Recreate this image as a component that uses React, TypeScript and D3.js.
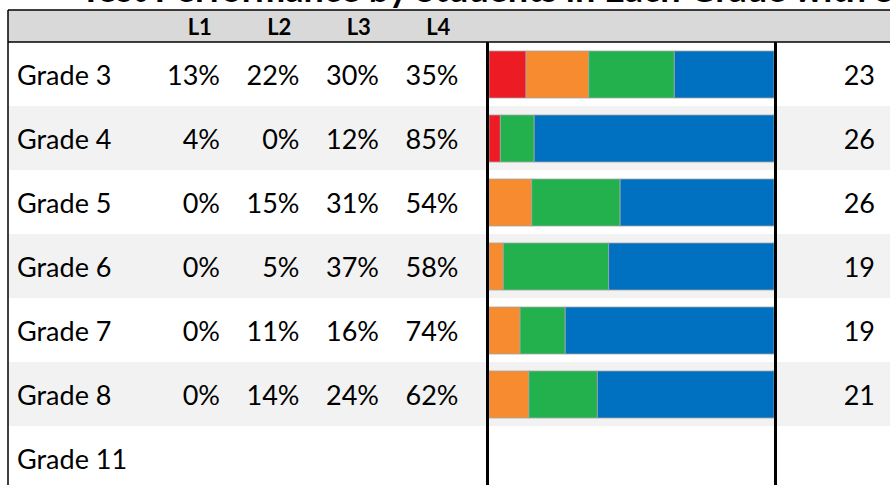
import React from "react";
import { scaleBand, scaleLinear, stack } from "d3";

const title = "Test Performance by Students in Each Grade with Student Counts";
const levels = ["L1", "L2", "L3", "L4"];
const grades = ["Grade 3", "Grade 4", "Grade 5", "Grade 6", "Grade 7", "Grade 8", "Grade 11"];
const l1 = [13, 4, 0, 0, 0, 0, null];
const l2 = [22, 0, 15, 5, 11, 14, null];
const l3 = [30, 12, 31, 37, 16, 24, null];
const l4 = [35, 85, 54, 58, 74, 62, null];
const counts = [23, 26, 26, 19, 19, 21, null];
const levelColors = ["#ed1c24", "#f68b2f", "#23b14d", "#0070c0"];

const W = 890;
const H = 485;
const left = 8;
const headerTop = 10;
const headerBottom = 42;
const rowH = 64;
const barLeft = 489;
const barRight = 774;
const font = "Lato, 'Open Sans', sans-serif";

export default function App() {
  const y = scaleBand<string>()
    .domain(grades)
    .range([headerBottom, headerBottom + rowH * grades.length]);

  const colX = scaleBand<string>().domain(levels).range([160, 478]);

  const x = scaleLinear().domain([0, 1]).range([barLeft, barRight]);

  const rows = grades.map((g, i) => {
    const vals = [l1[i], l2[i], l3[i], l4[i]];
    const total = vals.reduce((s, v) => s + (v ?? 0), 0);
    return {
      grade: g,
      L1: total ? (l1[i] ?? 0) / total : 0,
      L2: total ? (l2[i] ?? 0) / total : 0,
      L3: total ? (l3[i] ?? 0) / total : 0,
      L4: total ? (l4[i] ?? 0) / total : 0,
      vals,
    };
  });

  const series = stack<any>().keys(levels)(rows);

  return (
    <svg width={W} height={H} style={{ position: "absolute", left: 0, top: 0, background: "#fff" }}>
      {/* title, mostly cut off above the table */}
      <text x={80} y={2} fontFamily={font} fontWeight="bold" fontSize={36} fill="#000">{title}</text>

      {/* header */}
      <rect x={left} y={headerTop} width={W - left} height={headerBottom - headerTop} fill="#d9d9d9" />
      {levels.map(l => (
        <text key={l} x={colX(l)! + colX.bandwidth() / 2} y={35} textAnchor="middle"
          fontFamily={font} fontWeight="bold" fontSize={22}>{l}</text>
      ))}

      {/* row backgrounds */}
      {grades.map((g, i) => (
        <rect key={g} x={left} y={y(g)} width={W - left} height={rowH}
          fill={i % 2 === 1 ? "#f2f2f2" : "#ffffff"} />
      ))}

      {/* stacked bars */}
      {series.map((s, si) => (
        <g key={s.key}>
          {s.map((d, i) => {
            const w = x(d[1]) - x(d[0]);
            if (w <= 0) return null;
            return (
              <rect key={i} x={x(d[0])} y={y(grades[i])! + 9} width={w} height={rowH - 17}
                fill={levelColors[si]} stroke="#a6a6a6" strokeWidth={0.8} />
            );
          })}
        </g>
      ))}

      {/* row text */}
      {rows.map((r, i) => (
        <g key={r.grade} fontFamily={font} fontSize={27} fill="#000">
          <text x={17} y={y(r.grade)! + rowH / 2} dominantBaseline="central">{r.grade}</text>
          {r.vals.map((v, j) =>
            v == null ? null : (
              <text key={j} x={colX(levels[j])! + 60} y={y(r.grade)! + rowH / 2}
                textAnchor="end" dominantBaseline="central">{v}%</text>
            )
          )}
          {counts[i] != null && (
            <text x={875} y={y(r.grade)! + rowH / 2} textAnchor="end" dominantBaseline="central">
              {counts[i]}
            </text>
          )}
        </g>
      ))}

      {/* grid lines */}
      <line x1={left} x2={W} y1={headerTop} y2={headerTop} stroke="#000" strokeWidth={1.5} />
      <line x1={left} x2={W} y1={headerBottom} y2={headerBottom} stroke="#000" strokeWidth={1.5} />
      <line x1={left} x2={left} y1={headerTop} y2={H} stroke="#000" strokeWidth={1.5} />
      <line x1={barLeft - 1.5} x2={barLeft - 1.5} y1={headerBottom} y2={H} stroke="#000" strokeWidth={3} />
      <line x1={barRight + 1.5} x2={barRight + 1.5} y1={headerBottom} y2={H} stroke="#000" strokeWidth={3} />
    </svg>
  );
}
